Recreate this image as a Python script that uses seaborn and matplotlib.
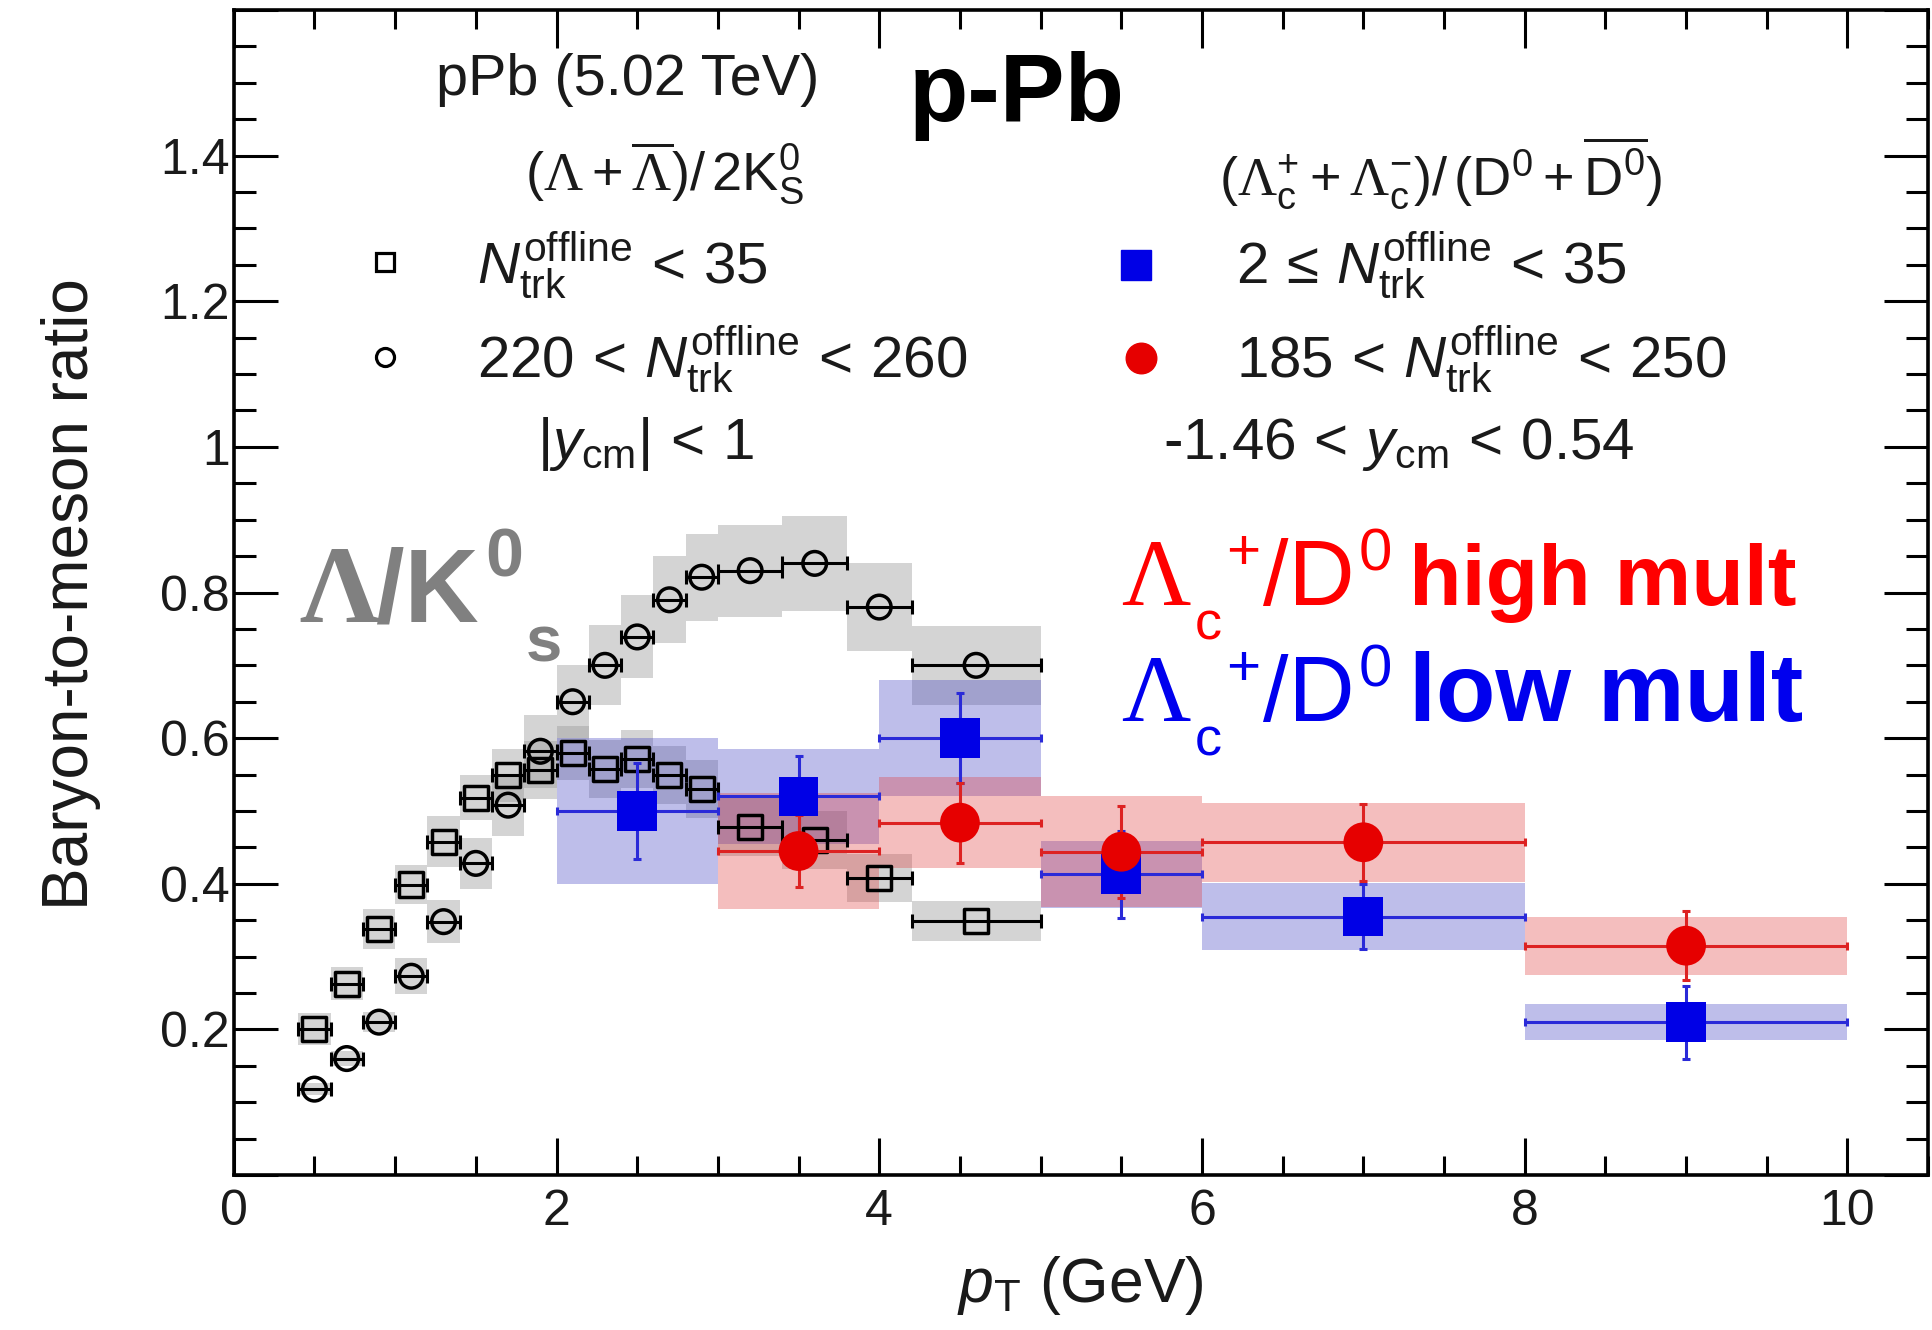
import numpy as np
import pandas as pd
import matplotlib
matplotlib.use("Agg")
import matplotlib.pyplot as plt
import seaborn as sns
from matplotlib.patches import Rectangle
from matplotlib.ticker import MultipleLocator, FuncFormatter

# ---------------- data ----------------
# Lambda/K0S, low multiplicity (open squares) and high multiplicity (open circles)
lk_pt = [0.5, 0.7, 0.9, 1.1, 1.3, 1.5, 1.7, 1.9, 2.1, 2.3, 2.5, 2.7, 2.9, 3.2, 3.6, 4.0, 4.6]
lk_lo = [0.4, 0.6, 0.8, 1.0, 1.2, 1.4, 1.6, 1.8, 2.0, 2.2, 2.4, 2.6, 2.8, 3.0, 3.4, 3.8, 4.2]
lk_hi = [0.6, 0.8, 1.0, 1.2, 1.4, 1.6, 1.8, 2.0, 2.2, 2.4, 2.6, 2.8, 3.0, 3.4, 3.8, 4.2, 5.0]
lk_low_val = [0.20, 0.263, 0.338, 0.399, 0.458, 0.518, 0.549, 0.556, 0.58, 0.558, 0.571, 0.549, 0.53, 0.478, 0.46, 0.408, 0.349]
lk_low_sys = [0.022, 0.023, 0.028, 0.027, 0.035, 0.031, 0.036, 0.04, 0.037, 0.04, 0.04, 0.04, 0.04, 0.04, 0.04, 0.033, 0.028]
lk_high_val = [0.118, 0.16, 0.21, 0.273, 0.348, 0.428, 0.508, 0.582, 0.65, 0.70, 0.739, 0.79, 0.821, 0.83, 0.84, 0.78, 0.70]
lk_high_sys = [0.008, 0.01, 0.014, 0.025, 0.03, 0.035, 0.043, 0.05, 0.05, 0.055, 0.057, 0.06, 0.06, 0.063, 0.065, 0.06, 0.054]

# Lambda_c+ / D0, low multiplicity (blue) and high multiplicity (red)
lc_low_pt = [2.5, 3.5, 4.5, 5.5, 7.0, 9.0]
lc_low_lo = [2, 3, 4, 5, 6, 8]
lc_low_hi = [3, 4, 5, 6, 8, 10]
lc_low_val = [0.50, 0.52, 0.60, 0.413, 0.355, 0.21]
lc_low_stat = [0.066, 0.055, 0.062, 0.06, 0.045, 0.05]
lc_low_sys = [0.10, 0.065, 0.08, 0.046, 0.046, 0.025]

lc_high_pt = [3.5, 4.5, 5.5, 7.0, 9.0]
lc_high_lo = [3, 4, 5, 6, 8]
lc_high_hi = [4, 5, 6, 8, 10]
lc_high_val = [0.445, 0.484, 0.444, 0.457, 0.315]
lc_high_stat = [0.05, 0.055, 0.063, 0.053, 0.047]
lc_high_sys = [0.08, 0.062, 0.076, 0.054, 0.04]

# ---------------- style ----------------
sns.set_theme(style="ticks")
plt.rcParams['font.family'] = ['Liberation Sans', 'DejaVu Sans']
plt.rcParams['mathtext.fontset'] = 'custom'
plt.rcParams['mathtext.rm'] = 'Liberation Sans'
plt.rcParams['mathtext.it'] = 'Liberation Sans:italic'
plt.rcParams['mathtext.bf'] = 'Liberation Sans:bold'
plt.rcParams['mathtext.cal'] = 'Liberation Serif'
plt.rcParams['mathtext.sf'] = 'Liberation Serif:bold'

BLUE = '#0000e6'
RED = '#e60000'
BLUE_LINE = '#2a2ad8'
RED_LINE = '#dd2222'
TXT = '#1a1a1a'

fig = plt.figure(figsize=(19.32, 13.30), dpi=100)
ax = fig.add_axes([0.121, 0.1165, 0.877, 0.876])

def df_of(pt, val, lo, hi, err=None, sys_=None):
    d = pd.DataFrame({'pt': pt, 'val': val, 'lo': lo, 'hi': hi})
    if err is not None:
        d['err'] = err
    if sys_ is not None:
        d['sys'] = sys_
    return d

lk_low = df_of(lk_pt, lk_low_val, lk_lo, lk_hi, sys_=lk_low_sys)
lk_high = df_of(lk_pt, lk_high_val, lk_lo, lk_hi, sys_=lk_high_sys)
lc_low = df_of(lc_low_pt, lc_low_val, lc_low_lo, lc_low_hi, lc_low_stat, lc_low_sys)
lc_high = df_of(lc_high_pt, lc_high_val, lc_high_lo, lc_high_hi, lc_high_stat, lc_high_sys)

def boxes(d, color, alpha, z):
    for _, r in d.iterrows():
        ax.add_patch(Rectangle((r['lo'], r['val'] - r['sys']), r['hi'] - r['lo'], 2 * r['sys'],
                               facecolor=color, edgecolor='none', alpha=alpha, zorder=z))

boxes(lk_high, '#9a9a9a', 0.42, 1)
boxes(lk_low, '#9a9a9a', 0.42, 1)
boxes(lc_low, '#3a3ac0', 0.33, 2)
boxes(lc_high, '#e03a3a', 0.33, 2)

# Lambda/K0S: horizontal bars + hollow markers
for d in (lk_low, lk_high):
    xerr = [d['pt'] - d['lo'], d['hi'] - d['pt']]
    ax.errorbar(d['pt'], d['val'], xerr=xerr, fmt='none', ecolor='black',
                elinewidth=2.2, capsize=5, capthick=2.2, zorder=3)

sns.scatterplot(data=lk_low, x='pt', y='val', marker='s', s=300, facecolor='none',
                edgecolor='black', linewidth=2.5, ax=ax, zorder=4, legend=False)
sns.scatterplot(data=lk_high, x='pt', y='val', marker='o', s=290, facecolor='none',
                edgecolor='black', linewidth=2.5, ax=ax, zorder=4, legend=False)

# Lambda_c / D0
for d, lc in ((lc_low, BLUE_LINE), (lc_high, RED_LINE)):
    xerr = [d['pt'] - d['lo'], d['hi'] - d['pt']]
    ax.errorbar(d['pt'], d['val'], xerr=xerr, yerr=d['err'], fmt='none', ecolor=lc,
                elinewidth=2.2, capsize=3, capthick=2.2, zorder=5)

sns.scatterplot(data=lc_low, x='pt', y='val', marker='s', s=820, color=BLUE,
                edgecolor='none', ax=ax, zorder=6, legend=False)
sns.scatterplot(data=lc_high, x='pt', y='val', marker='o', s=820, color=RED,
                edgecolor='none', ax=ax, zorder=7, legend=False)

# ---------------- axes ----------------
ax.set_xlim(0, 10.5)
ax.set_ylim(0, 1.6)
ax.xaxis.set_major_locator(MultipleLocator(2))
ax.xaxis.set_minor_locator(MultipleLocator(0.5))
ax.yaxis.set_major_locator(MultipleLocator(0.2))
ax.yaxis.set_minor_locator(MultipleLocator(0.05))
ax.yaxis.set_major_formatter(FuncFormatter(lambda v, p: '' if (v < 0.1 or v > 1.5) else ('%g' % round(v, 2))))
ax.xaxis.set_major_formatter(FuncFormatter(lambda v, p: '%g' % v))
ax.tick_params(which='both', direction='in', top=True, right=True, width=2.2, colors='black',
               labelcolor=TXT)
ax.tick_params(axis='x', which='major', length=27, labelsize=36, pad=10)
ax.tick_params(axis='x', which='minor', length=14)
ax.tick_params(axis='y', which='major', length=32, labelsize=36, pad=3)
ax.tick_params(axis='y', which='minor', length=16)
for s in ax.spines.values():
    s.set_linewidth(2.6)
    s.set_color('black')
ax.set_xlabel('')
ax.set_ylabel('')

fig.text(0.037, 0.553, 'Baryon-to-meson ratio', rotation=90, ha='center', va='center',
         fontsize=46, color=TXT)
fig.text(0.559, 0.021, r'$p_{\mathrm{T}}$ (GeV)', ha='center', va='baseline', fontsize=45,
         color=TXT)

# ---------------- annotations ----------------
def chain(x0, y0, pieces, color):
    """Place text pieces one after another; piece = (text, dy, gap_pts, props)."""
    prev = None
    for txt, dy, gap, kw in pieces:
        if prev is None:
            prev = ax.text(x0, y0 + dy, txt, ha='left', va='baseline', color=color, **kw)
        else:
            prev = ax.annotate(txt, xy=(1, y0 + dy), xycoords=(prev, 'data'),
                               xytext=(gap, 0), textcoords='offset points',
                               ha='left', va='baseline', color=color, **kw)
    return prev

ax.text(2.44, 1.504, 'pPb (5.02 TeV)', ha='center', va='center', fontsize=41.5, color=TXT)
ax.text(4.85, 1.482, 'p-Pb', ha='center', va='center', fontsize=70, fontweight='bold', color='black')

ax.text(2.67, 1.377, r'$(\mathcal{\Lambda}+\overline{\mathcal{\Lambda}})/\,2\mathrm{K}_{\mathrm{S}}^{0}$',
        ha='center', va='center', fontsize=39, color=TXT)
ax.plot([0.94], [1.254], marker='s', ms=13, mfc='none', mec='black', mew=2.3, ls='none')
ax.text(1.51, 1.225, r'$N_{\mathrm{trk}}^{\mathrm{offline}}\,<\,35$', ha='left', va='baseline',
        fontsize=42, color=TXT)
ax.plot([0.94], [1.124], marker='o', ms=13, mfc='none', mec='black', mew=2.3, ls='none')
ax.text(1.51, 1.095, r'$220\,<\,N_{\mathrm{trk}}^{\mathrm{offline}}\,<\,260$', ha='left', va='baseline',
        fontsize=42, color=TXT)
ax.text(2.55, 0.983, r'$|y_{\mathrm{cm}}|\,<\,1$', ha='center', va='baseline', fontsize=42, color=TXT)

ax.text(7.48, 1.377,
        r'$(\mathcal{\Lambda}_{\mathrm{c}}^{+}+\mathcal{\Lambda}_{\mathrm{c}}^{-})/\,(\mathrm{D}^{0}+\overline{\mathrm{D}^{0}})$',
        ha='center', va='center', fontsize=39, color=TXT)
ax.plot([5.59], [1.25], marker='s', ms=22, mfc=BLUE, mec=BLUE, ls='none')
ax.text(6.21, 1.225, r'$2\,\leq\,N_{\mathrm{trk}}^{\mathrm{offline}}\,<\,35$', ha='left', va='baseline',
        fontsize=42, color=TXT)
ax.plot([5.62], [1.122], marker='o', ms=22, mfc=RED, mec=RED, ls='none')
ax.text(6.21, 1.095, r'$185\,<\,N_{\mathrm{trk}}^{\mathrm{offline}}\,<\,250$', ha='left', va='baseline',
        fontsize=42, color=TXT)
ax.text(7.22, 0.983, r'$\text{-}1.46\,<\,y_{\mathrm{cm}}\,<\,0.54$', ha='center', va='baseline',
        fontsize=42, color=TXT)

SERIF = dict(family=['Liberation Serif', 'DejaVu Serif'])
SANS = dict(family=['Liberation Sans', 'DejaVu Sans'])

# big grey Lambda/K0S label
chain(0.405, 0.76, [
    ('Λ', 0.0, 0, dict(fontsize=80, fontweight='bold', **SERIF)),
    ('/K', 0.0, -2, dict(fontsize=74, fontweight='bold', **SANS)),
    ('0', 0.062, 5, dict(fontsize=49, fontweight='bold', **SANS)),
    ('s', -0.055, 2, dict(fontsize=47, fontweight='bold', **SANS)),
], '#808080')

def lc_label(y0, word, wsize, color):
    chain(5.50, y0, [
        ('Λ', 0.0, 0, dict(fontsize=69, **SERIF)),
        ('c', -0.048, 3, dict(fontsize=39, **SANS)),
        ('+', 0.049, 3, dict(fontsize=42, **SANS)),
        ('/D', 0.0, 2, dict(fontsize=66, **SANS)),
        ('0', 0.047, 3, dict(fontsize=43, **SANS)),
        (word, 0.0, 12, dict(fontsize=wsize, fontweight='bold', **SANS)),
    ], color)

lc_label(0.783, 'high mult', 62, '#ff0000')
lc_label(0.624, 'low mult', 70, '#0000ee')

fig.savefig('out.png', dpi=100)
